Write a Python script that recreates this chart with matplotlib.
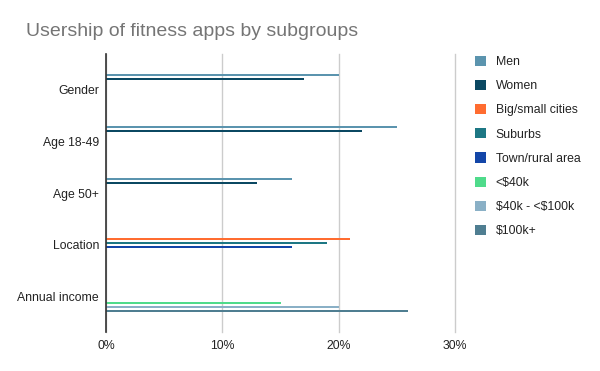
import matplotlib
matplotlib.use("Agg")
import matplotlib.pyplot as plt
import numpy as np
from matplotlib.patches import Patch
from matplotlib.ticker import FuncFormatter

categories = ["Gender", "Age 18-49", "Age 50+", "Location", "Annual income"]
series_names = ["Men", "Women", "Big/small cities", "Suburbs", "Town/rural area",
                "<\\$40k", "\\$40k - <\\$100k", "\\$100k+"]
colors = ["#5b94ae", "#0b4862", "#ff6c30", "#1d7784", "#1346a8",
          "#4fdb8b", "#8ab0c6", "#4f7e91"]
# values in percent; None = no bar
men = [20, 25, 16, None, None]
women = [17, 22, 13, None, None]
big_small_cities = [None, None, None, 21, None]
suburbs = [None, None, None, 19, None]
town_rural = [None, None, None, 16, None]
under_40k = [None, None, None, None, 15]
k40_100 = [None, None, None, None, 20]
k100_plus = [None, None, None, None, 26]
series = [men, women, big_small_cities, suburbs, town_rural, under_40k, k40_100, k100_plus]
xticks = [0, 10, 20, 30]

plt.rcParams['font.family'] = ['Liberation Sans', 'DejaVu Sans']
fig = plt.figure(figsize=(6, 3.71), dpi=100)
ax = fig.add_axes([106/600, 1-332/371, (455-106)/600, (332-54)/371])

n = len(series)
slot = 4/52
bar_h = slot*0.45
y = np.arange(len(categories))
for i, (vals, c, name) in enumerate(zip(series, colors, series_names)):
    off = (i - (n-1)/2) * slot
    ys = [y[j] + off for j, v in enumerate(vals) if v is not None]
    vs = [v for v in vals if v is not None]
    ax.barh(ys, vs, height=bar_h, color=c, zorder=3)

ax.set_ylim(len(categories)-1+0.68, -0.68)
ax.set_xlim(0, 30)
ax.set_xticks(xticks)
ax.xaxis.set_major_formatter(FuncFormatter(lambda v, p: f"{int(v)}%"))
ax.set_yticks(y)
ax.set_yticklabels(categories)
ax.grid(axis='x', color='#cccccc', linewidth=1, zorder=0)
for gl in ax.get_xgridlines():
    gl.set_clip_on(False)
for s in ['top', 'right', 'bottom']:
    ax.spines[s].set_visible(False)
ax.spines['left'].set_color('#333333')
ax.spines['left'].set_linewidth(1.2)
ax.spines['left'].set_zorder(4)
ax.tick_params(axis='both', length=0, labelsize=8.8, colors='#222222')
ax.tick_params(axis='y', pad=5)
ax.tick_params(axis='x', pad=6)

fig.text(26/600, 1-32/371, "Usership of fitness apps by subgroups",
         fontsize=14, color='#757575', va='center', ha='left')

handles = [Patch(facecolor=c, edgecolor='none') for c in colors]
fig.legend(handles, series_names, loc='upper left', bbox_to_anchor=(470/600, 1-51/371),
           frameon=False, fontsize=8.8, labelspacing=0.97, handlelength=0.9,
           handleheight=0.9, handletextpad=0.8, borderaxespad=0, labelcolor='#222222')

fig.savefig("out.png", dpi=100)
